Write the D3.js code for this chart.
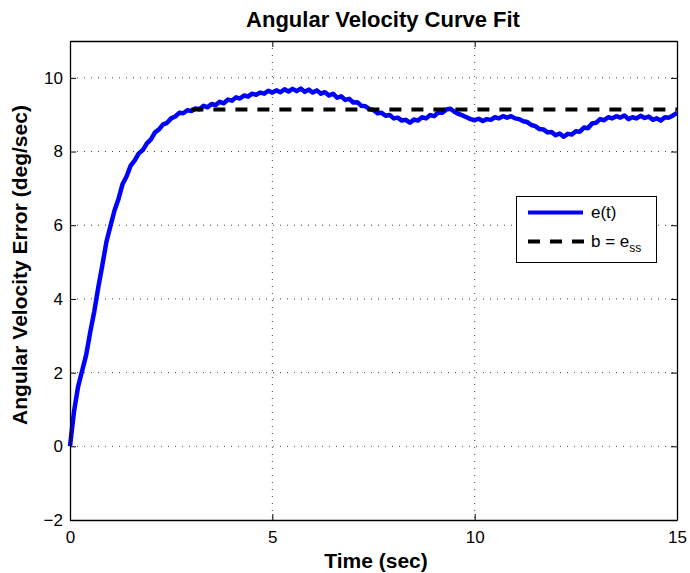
<!DOCTYPE html>
<html lang="en">
    <head>
        <meta charset="utf-8">
        <title>Angular Velocity Curve Fit</title>
        <script type="text/javascript" src="https://d3js.org/d3.v7.min.js"></script>
        <style>
            body { margin: 0; background: #fff; }
            text { font-family: "Liberation Sans", Arial, Helvetica, sans-serif; }
        </style>
    </head>
    <body>
        <div id="chart"></div>
        <script type="text/javascript">

            var w = 690;
            var h = 573;
            var plotLeft = 70, plotTop = 41, plotRight = 677, plotBottom = 520;

            // sampled error e(t), one value every dt seconds starting at t = 0
            var dt = 0.1;
            var errValues = [
                0.00, 0.95, 1.62, 2.05, 2.48, 3.10, 3.66, 4.32, 4.92, 5.55,
                5.98, 6.40, 6.72, 7.12, 7.33, 7.62, 7.76, 7.95, 8.04, 8.22,
                8.33, 8.52, 8.60, 8.74, 8.78, 8.90, 8.95, 9.05, 9.04, 9.12,
                9.10, 9.17, 9.15, 9.24, 9.20, 9.29, 9.26, 9.35, 9.31, 9.41,
                9.38, 9.47, 9.44, 9.52, 9.49, 9.57, 9.54, 9.60, 9.57, 9.65,
                9.60, 9.66, 9.61, 9.69, 9.63, 9.70, 9.64, 9.71, 9.62, 9.68,
                9.60, 9.66, 9.57, 9.61, 9.52, 9.57, 9.46, 9.50, 9.40, 9.43,
                9.33, 9.34, 9.24, 9.23, 9.15, 9.13, 9.04, 9.05, 8.97, 8.99,
                8.90, 8.92, 8.84, 8.86, 8.78, 8.87, 8.84, 8.93, 8.90, 8.99,
                8.96, 9.06, 9.05, 9.14, 9.16, 9.08, 9.02, 8.98, 8.93, 8.88,
                8.85, 8.89, 8.83, 8.88, 8.86, 8.93, 8.90, 8.96, 8.92, 8.96,
                8.90, 8.88, 8.82, 8.80, 8.72, 8.69, 8.61, 8.60, 8.52, 8.53,
                8.44, 8.49, 8.40, 8.48, 8.46, 8.55, 8.54, 8.65, 8.63, 8.76,
                8.78, 8.88, 8.85, 8.93, 8.90, 8.96, 8.92, 8.98, 8.88, 8.93,
                8.90, 8.97, 8.91, 8.95, 8.86, 8.90, 8.84, 8.93, 8.92, 8.98,
                9.05
            ];

            // steady state value b = e_ss
            var essTimes = [3, 15];
            var essValue = 9.14;

            var xTicks = [0, 5, 10, 15];
            var yTicks = [-2, 0, 2, 4, 6, 8, 10];

            var errData = errValues.map(function(v, i) { return { t: i * dt, v: v }; });
            var essData = essTimes.map(function(t) { return { t: t, v: essValue }; });

            var xScale = d3.scaleLinear().domain([0, 15]).range([plotLeft, plotRight]);
            var yScale = d3.scaleLinear().domain([-2, 11]).range([plotBottom, plotTop]);

            var svg = d3.select("#chart")
                        .append("svg")
                        .attr("width", w)
                        .attr("height", h);

            // grid
            svg.append("g")
                .selectAll("line")
                .data(xTicks.slice(1, -1))
                .enter()
                .append("line")
                .attr("x1", function(d) { return xScale(d); })
                .attr("x2", function(d) { return xScale(d); })
                .attr("y1", plotTop)
                .attr("y2", plotBottom)
                .attr("stroke", "#444")
                .attr("stroke-dasharray", "1,6");

            svg.append("g")
                .selectAll("line")
                .data(yTicks.slice(1))
                .enter()
                .append("line")
                .attr("x1", plotLeft)
                .attr("x2", plotRight)
                .attr("y1", function(d) { return yScale(d); })
                .attr("y2", function(d) { return yScale(d); })
                .attr("stroke", "#444")
                .attr("stroke-dasharray", "1,6");

            var line = d3.line()
                .x(function(d) { return xScale(d.t); })
                .y(function(d) { return yScale(d.v); });

            svg.append("path")
                .datum(errData)
                .attr("fill", "none")
                .attr("stroke", "#0000ff")
                .attr("stroke-width", 4.5)
                .attr("stroke-linejoin", "round")
                .attr("d", line);

            svg.append("path")
                .datum(essData)
                .attr("fill", "none")
                .attr("stroke", "#000")
                .attr("stroke-width", 4)
                .attr("stroke-dasharray", "12,10")
                .attr("d", line);

            // axes (ticks point inwards, box on)
            var xAxis = d3.axisBottom(xScale).tickValues(xTicks).tickSizeInner(-6).tickSizeOuter(0).tickPadding(11);
            var yAxis = d3.axisLeft(yScale).tickValues(yTicks).tickSizeInner(-6).tickSizeOuter(0).tickPadding(7);

            svg.append("g")
                .attr("transform", "translate(0," + plotBottom + ")")
                .call(xAxis);
            svg.append("g")
                .attr("transform", "translate(" + plotLeft + ",0)")
                .call(yAxis);

            svg.append("g")
                .attr("transform", "translate(0," + plotTop + ")")
                .call(d3.axisTop(xScale).tickValues(xTicks).tickSizeInner(-6).tickSizeOuter(0).tickFormat(""));
            svg.append("g")
                .attr("transform", "translate(" + plotRight + ",0)")
                .call(d3.axisRight(yScale).tickValues(yTicks).tickSizeInner(-6).tickSizeOuter(0).tickFormat(""));

            svg.selectAll(".domain").attr("stroke", "#000").attr("stroke-width", 1.3);
            svg.selectAll(".tick line").attr("stroke", "#000");
            svg.selectAll(".tick text")
                .attr("fill", "#000")
                .style("font-size", "17px")
                .style("font-family", "'Liberation Sans', Arial, sans-serif");

            // title and labels
            svg.append("text")
                .attr("x", 383)
                .attr("y", 27)
                .attr("text-anchor", "middle")
                .style("font-size", "22px")
                .style("font-weight", "bold")
                .text("Angular Velocity Curve Fit");

            svg.append("text")
                .attr("x", 376)
                .attr("y", 568)
                .attr("text-anchor", "middle")
                .style("font-size", "21px")
                .style("font-weight", "bold")
                .text("Time (sec)");

            svg.append("text")
                .attr("transform", "translate(27,265) rotate(-90)")
                .attr("text-anchor", "middle")
                .style("font-size", "21px")
                .style("font-weight", "bold")
                .text("Angular Velocity Error (deg/sec)");

            // legend
            var legend = svg.append("g");
            legend.append("rect")
                .attr("x", 516.5)
                .attr("y", 196.5)
                .attr("width", 140)
                .attr("height", 66)
                .attr("fill", "#fff")
                .attr("stroke", "#000");

            legend.append("line")
                .attr("x1", 528).attr("x2", 583)
                .attr("y1", 212.5).attr("y2", 212.5)
                .attr("stroke", "#0000ff")
                .attr("stroke-width", 4);
            legend.append("line")
                .attr("x1", 528).attr("x2", 584)
                .attr("y1", 241.5).attr("y2", 241.5)
                .attr("stroke", "#000")
                .attr("stroke-width", 4)
                .attr("stroke-dasharray", "12,10");

            legend.append("text")
                .attr("x", 591)
                .attr("y", 218)
                .style("font-size", "17px")
                .text("e(t)");

            var lab = legend.append("text")
                .attr("x", 591)
                .attr("y", 247)
                .style("font-size", "17px");
            lab.append("tspan").text("b = e");
            lab.append("tspan")
                .attr("dy", 5)
                .style("font-size", "12px")
                .text("ss");

        </script>
    </body>
</html>
